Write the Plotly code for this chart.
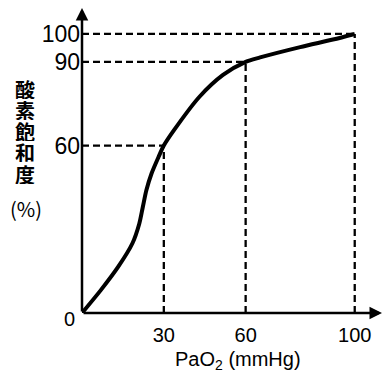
import plotly.graph_objects as go

# Oxygen dissociation curve
pao2 = [0, 6.9, 13.3, 18.5, 21.0, 22.3, 23.6, 25.5, 28.1, 30, 33.8, 43, 51.7, 60, 65.3, 80, 92, 100]
sat = [0, 8.2, 16.6, 25, 32, 38, 44, 50, 56, 60, 65.6, 77.4, 85.3, 90, 91.6, 95.3, 98, 100]

# Reference guide points
ref_x = [30, 60, 100]
ref_y = [60, 90, 100]

x_ticks = [30, 60, 100]
y_ticks = [60, 90, 100]
ylabel_chars = ["酸", "素", "飽", "和", "度"]
ylabel_unit = "(%)"
xlabel = "PaO<sub>2</sub> (mmHg)"
origin_label = "0"

OFF = 8  # page body margin
W, H = 391 - OFF, 384 - OFF
L, T = 82 - OFF, 8 - OFF
PW, PH = 300, 305
R, B = W - L - PW, H - T - PH
XMAX, YMAX = 110, 109.3

def px(xp, yp):
    # page pixel -> paper coordinates
    return (xp - OFF - L) / PW, (T + PH - (yp - OFF)) / PH

fig = go.Figure()

dash = "7px,4px"
for gx, gy in zip(ref_x, ref_y):
    fig.add_trace(go.Scatter(x=[0, gx], y=[gy, gy], mode="lines",
                             line=dict(color="black", width=2.3, dash=dash),
                             hoverinfo="skip", showlegend=False))
    fig.add_trace(go.Scatter(x=[gx, gx], y=[0, gy], mode="lines",
                             line=dict(color="black", width=2.3, dash=dash),
                             hoverinfo="skip", showlegend=False))

fig.add_trace(go.Scatter(x=pao2, y=sat, mode="lines",
                         line=dict(color="black", width=4, shape="spline", smoothing=0.8),
                         showlegend=False))

annotations = []
# axes with arrows
annotations.append(dict(x=XMAX, y=0, ax=0, ay=0, xref="x", yref="y", axref="x", ayref="y",
                        text="", showarrow=True, arrowhead=2, arrowsize=1, arrowwidth=2.5,
                        arrowcolor="black"))
annotations.append(dict(x=0, y=YMAX, ax=0, ay=0, xref="x", yref="y", axref="x", ayref="y",
                        text="", showarrow=True, arrowhead=2, arrowsize=1, arrowwidth=2.5,
                        arrowcolor="black"))

cjk = "Noto Sans CJK JP"
for i, ch in enumerate(ylabel_chars):
    xp, yp = px(25, 88.5 + 21.3 * i)
    annotations.append(dict(x=xp, y=yp, xref="paper", yref="paper", text="<b>" + ch + "</b>",
                            showarrow=False, borderpad=0, height=20, valign="middle",
                            font=dict(family=cjk, size=20, color="black"),
                            xanchor="center", yanchor="middle"))
xp, yp = px(26, 208)
annotations.append(dict(x=xp, y=yp, xref="paper", yref="paper", text=ylabel_unit,
                        showarrow=False, borderpad=0,
                        font=dict(family=cjk, size=20, color="black"),
                        xanchor="center", yanchor="middle"))
xp, yp = px(238, 360)
annotations.append(dict(x=xp, y=yp, xref="paper", yref="paper", text=xlabel,
                        showarrow=False, font=dict(family="Liberation Sans", size=20, color="black"),
                        xanchor="center", yanchor="middle"))
xp, yp = px(69, 319)
annotations.append(dict(x=xp, y=yp, xref="paper", yref="paper", text=origin_label,
                        showarrow=False, font=dict(family="Liberation Sans", size=20, color="black"),
                        xanchor="center", yanchor="middle"))

fig.update_layout(
    width=W, height=H,
    margin=dict(l=L, r=R, t=T, b=B, autoexpand=False),
    paper_bgcolor="white", plot_bgcolor="white",
    annotations=annotations,
    xaxis=dict(range=[0, XMAX], tickvals=x_ticks, ticktext=[str(v) for v in x_ticks],
               showgrid=False, zeroline=False, showline=False, ticks="", automargin=False,
               tickfont=dict(family="Liberation Sans", size=20, color="black"),
               ticklabelstandoff=8),
    yaxis=dict(range=[0, YMAX], tickvals=y_ticks, ticktext=[str(v) for v in y_ticks],
               showgrid=False, zeroline=False, showline=False, ticks="", automargin=False,
               tickfont=dict(family="Liberation Sans", size=23, color="black"),
               ticklabelstandoff=1),
)

fig.write_html("out.html")
